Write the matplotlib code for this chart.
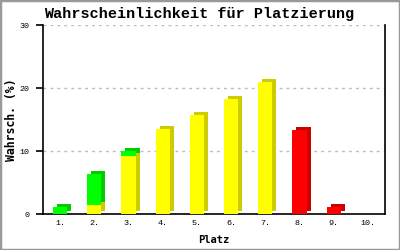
import matplotlib
matplotlib.use("Agg")
import matplotlib.pyplot as plt
import matplotlib.transforms as mtransforms
import numpy as np

places = [1, 2, 3, 4, 5, 6, 7, 8, 9, 10]
tick_labels = ["1.", "2.", "3.", "4.", "5.", "6.", "7.", "8.", "9.", "10."]
green_vals = [1.2, 4.85, 0.75, 0, 0, 0, 0, 0, 0, 0]
yellow_vals = [0, 1.5, 9.3, 13.5, 15.75, 18.3, 21.0, 0, 0, 0]
red_vals = [0, 0, 0, 0, 0, 0, 0, 13.4, 1.1, 0]

front = {"g": "#00ff00", "y": "#ffff00", "r": "#ff0000"}
side = {"g": "#00cc00", "y": "#cccc00", "r": "#cc0000"}

fig = plt.figure(figsize=(4, 2.5), dpi=100)
fig.patch.set_facecolor("white")
ax = fig.add_axes([0.1075, 0.1428, 0.855, 0.7572])

x = np.array(places)
w = 0.41
yellow = np.array(yellow_vals)
green = np.array(green_vals)
red = np.array(red_vals)

shift = mtransforms.offset_copy(ax.transData, fig=fig, x=4, y=3, units="dots")

segments = [
    (yellow, np.zeros(10), "y"),
    (green, yellow, "g"),
    (red, np.zeros(10), "r"),
]
for vals, bottom, key in segments:
    m = vals > 0
    ax.bar(x[m], vals[m], bottom=bottom[m], width=w, color=side[key],
           transform=shift, zorder=2, linewidth=0)
for vals, bottom, key in segments:
    m = vals > 0
    ax.bar(x[m], vals[m], bottom=bottom[m], width=w, color=front[key],
           zorder=3, linewidth=0)

ax.set_xlim(0.5, 10.5)
ax.set_ylim(0, 30)
ax.set_yticks([0, 10, 20, 30])
ax.set_xticks(places)
ax.set_xticklabels(tick_labels)
for y in [10, 20, 30]:
    ax.axhline(y, color="#bbbbbb", linestyle=(0, (2, 3)), linewidth=1, zorder=1)

for s in ["left", "bottom", "right"]:
    ax.spines[s].set_linewidth(1.2)
    ax.spines[s].set_color("black")
ax.spines["top"].set_visible(False)
ax.tick_params(axis="y", length=5, width=1.2, direction="out", pad=5,
               labelsize=6, labelfontfamily="Liberation Mono")
ax.tick_params(axis="x", length=0, pad=4, labelsize=6,
               labelfontfamily="Liberation Mono")

ax.set_xlabel("Platz", family="DejaVu Sans Mono", fontweight="bold",
              fontsize=7.5, labelpad=6)
ax.set_ylabel("Wahrsch. (%)", family="DejaVu Sans Mono", fontweight="bold",
              fontsize=8.3)
ax.yaxis.set_label_coords(-0.074, 0.5)
fig.text(0.497, 0.944, "Wahrscheinlichkeit für Platzierung", ha="center",
         va="center", family="Liberation Mono", fontweight="bold",
         fontsize=10.9)

border = plt.Rectangle((0, 0), 1, 1, transform=fig.transFigure, fill=False,
                       edgecolor="#999999", linewidth=2.5)
fig.patches.append(border)

fig.savefig("out.png", dpi=100, facecolor="white")
